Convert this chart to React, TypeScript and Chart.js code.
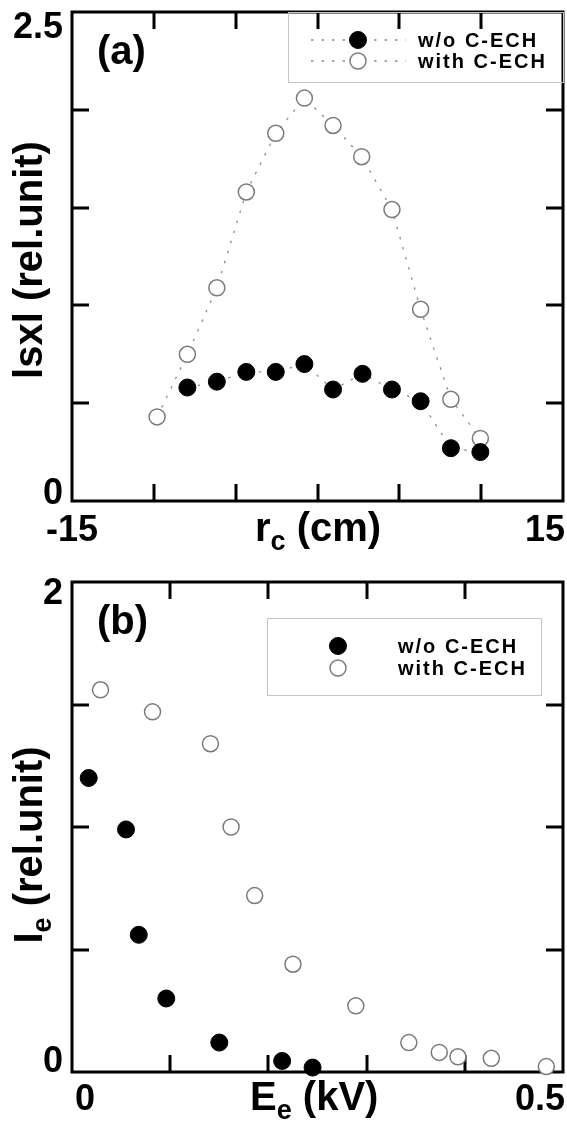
import React, { useEffect, useRef } from 'react';
import { Chart, registerables } from 'chart.js';

Chart.register(...registerables);

// ---------- panel (a): |Sx| profile vs r_c ----------
const rcWith = [-9.8, -7.95, -6.15, -4.35, -2.55, -0.8, 0.95, 2.7, 4.55, 6.3, 8.15, 9.95];
const sxWith = [0.43, 0.75, 1.09, 1.58, 1.88, 2.06, 1.92, 1.76, 1.49, 0.98, 0.52, 0.32];
const rcWithout = [-7.95, -6.15, -4.35, -2.55, -0.8, 0.95, 2.75, 4.55, 6.3, 8.15, 9.95];
const sxWithout = [0.58, 0.61, 0.66, 0.66, 0.7, 0.57, 0.65, 0.57, 0.51, 0.27, 0.25];

// ---------- panel (b): I_e vs E_e ----------
const eWithout = [0.017, 0.055, 0.068, 0.096, 0.15, 0.214, 0.245];
const ieWithout = [1.2, 0.99, 0.56, 0.3, 0.12, 0.045, 0.018];
const eWith = [0.029, 0.082, 0.141, 0.162, 0.186, 0.225, 0.289, 0.343, 0.374, 0.393, 0.427, 0.483];
const ieWith = [1.56, 1.47, 1.34, 1.0, 0.72, 0.44, 0.27, 0.12, 0.08, 0.062, 0.056, 0.022];

const seriesNames = ['w/o C-ECH', 'with C-ECH'];
const aXTickText = ['-15', '15'];
const aYTickText = ['0', '2.5'];
const bXTickText = ['0', '0.5'];
const bYTickText = ['0', '2'];
const panelNames = ['(a)', '(b)'];

const FONT = "'Liberation Sans', Arial, Helvetica, sans-serif";
const W = 567;

type Part = { t: string; sub?: boolean };

function drawParts(ctx: CanvasRenderingContext2D, parts: Part[], x: number, y: number, center: boolean, size: number) {
  const big = `bold ${size}px ${FONT}`;
  const small = `bold ${Math.round(size * 0.68)}px ${FONT}`;
  let w = 0;
  parts.forEach((p) => {
    ctx.font = p.sub ? small : big;
    w += ctx.measureText(p.t).width;
  });
  let cx = center ? x - w / 2 : x;
  ctx.textAlign = 'left';
  ctx.textBaseline = 'alphabetic';
  parts.forEach((p) => {
    ctx.font = p.sub ? small : big;
    ctx.fillText(p.t, cx, y + (p.sub ? size * 0.22 : 0));
    cx += ctx.measureText(p.t).width;
  });
}

const panelPlugin = {
  id: 'panel',
  beforeDatasetsDraw(chart: any) {
    const { ctx, chartArea: a, scales } = chart;
    ctx.save();
    ctx.strokeStyle = '#000';
    ctx.lineWidth = 3;
    ctx.strokeRect(a.left, a.top, a.right - a.left, a.bottom - a.top);
    const L = 17;
    ctx.beginPath();
    const xs = scales.x;
    xs.ticks.forEach((t: any) => {
      if (t.value <= xs.min + 1e-9 || t.value >= xs.max - 1e-9) return;
      const px = Math.round(xs.getPixelForValue(t.value));
      ctx.moveTo(px, a.bottom);
      ctx.lineTo(px, a.bottom - L);
      ctx.moveTo(px, a.top);
      ctx.lineTo(px, a.top + L);
    });
    const ys = scales.y;
    ys.ticks.forEach((t: any) => {
      if (t.value <= ys.min + 1e-9 || t.value >= ys.max - 1e-9) return;
      const py = Math.round(ys.getPixelForValue(t.value));
      ctx.moveTo(a.left, py);
      ctx.lineTo(a.left + L, py);
      ctx.moveTo(a.right, py);
      ctx.lineTo(a.right - L, py);
    });
    ctx.stroke();
    ctx.restore();
  },
  afterDraw(chart: any, _args: any, opts: any) {
    const { ctx, chartArea: a } = chart;
    ctx.save();
    ctx.fillStyle = '#000';
    // tick labels at the ends of each axis
    ctx.font = `bold 36px ${FONT}`;
    ctx.textBaseline = 'alphabetic';
    ctx.textAlign = 'right';
    ctx.fillText(opts.yTicks[0], a.left - 9, a.bottom + opts.yLowDy);
    ctx.fillText(opts.yTicks[1], a.left - 9, a.top + opts.yHighDy);
    ctx.textAlign = 'left';
    ctx.fillText(opts.xTicks[0], a.left + opts.xLowDx, a.bottom + opts.xDy);
    ctx.textAlign = 'right';
    ctx.fillText(opts.xTicks[1], a.right + 2, a.bottom + opts.xDy);

    // axis titles
    drawParts(ctx, opts.xTitle, opts.xTitleX, a.bottom + opts.xDy, false, 40);
    ctx.save();
    ctx.translate(opts.yTitleX, opts.yTitleY);
    ctx.rotate(-Math.PI / 2);
    drawParts(ctx, opts.yTitle, 0, 0, true, 40);
    ctx.restore();

    // panel label
    ctx.font = `bold 40px ${FONT}`;
    ctx.textAlign = 'left';
    ctx.fillText(opts.panel, a.left + 25, a.top + opts.panelDy);

    // legend
    const lg = opts.legend;
    ctx.strokeStyle = '#c4c4c4';
    ctx.lineWidth = 1;
    ctx.strokeRect(lg.x + 0.5, lg.y + 0.5, lg.w, lg.h);
    chart.data.datasets.forEach((ds: any, i: number) => {
      const y = lg.rows[i];
      if (ds.showLine) {
        ctx.save();
        ctx.setLineDash(ds.borderDash);
        ctx.strokeStyle = ds.borderColor;
        ctx.lineWidth = ds.borderWidth;
        ctx.beginPath();
        ctx.moveTo(lg.lineX0, y);
        ctx.lineTo(lg.lineX1, y);
        ctx.stroke();
        ctx.restore();
      }
      ctx.beginPath();
      ctx.arc(lg.markerX, y, ds.pointRadius, 0, Math.PI * 2);
      ctx.fillStyle = ds.pointBackgroundColor;
      ctx.fill();
      ctx.lineWidth = ds.pointBorderWidth;
      ctx.strokeStyle = ds.pointBorderColor;
      ctx.stroke();
      ctx.fillStyle = '#000';
      ctx.font = `bold 20px ${FONT}`;
      (ctx as any).letterSpacing = '2px';
      ctx.textAlign = 'left';
      ctx.textBaseline = 'middle';
      ctx.fillText(ds.label, lg.textX, y + 1);
      (ctx as any).letterSpacing = '0px';
    });
    ctx.restore();
  },
};

function filledStyle() {
  return {
    pointRadius: 8.5,
    pointBackgroundColor: '#000',
    pointBorderColor: '#000',
    pointBorderWidth: 1,
  };
}
function openStyle() {
  return {
    pointRadius: 8,
    pointBackgroundColor: '#fff',
    pointBorderColor: '#7a7a7a',
    pointBorderWidth: 1.5,
  };
}

function baseScales(xMin: number, xMax: number, xStep: number, yMin: number, yMax: number, yStep: number, xH: number) {
  return {
    x: {
      type: 'linear',
      min: xMin,
      max: xMax,
      ticks: { display: false, stepSize: xStep },
      grid: { display: false },
      border: { display: false },
      afterFit: (s: any) => {
        s.height = xH;
      },
    },
    y: {
      type: 'linear',
      min: yMin,
      max: yMax,
      ticks: { display: false, stepSize: yStep },
      grid: { display: false },
      border: { display: false },
      afterFit: (s: any) => {
        s.width = 72;
      },
    },
  };
}

function configA(): any {
  return {
    type: 'scatter',
    data: {
      datasets: [
        {
          label: seriesNames[0],
          data: rcWithout.map((x, i) => ({ x, y: sxWithout[i] })),
          showLine: true,
          borderColor: '#8c8c8c',
          borderWidth: 1.3,
          borderDash: [2.5, 8],
          clip: false,
          ...filledStyle(),
        },
        {
          label: seriesNames[1],
          data: rcWith.map((x, i) => ({ x, y: sxWith[i] })),
          showLine: true,
          borderColor: '#8c8c8c',
          borderWidth: 1.3,
          borderDash: [2.5, 8],
          clip: false,
          ...openStyle(),
        },
      ],
    },
    options: {
      responsive: false,
      animation: false,
      devicePixelRatio: 1,
      layout: { autoPadding: false, padding: { left: 0, top: 12, right: 4, bottom: 0 } },
      plugins: {
        legend: { display: false },
        tooltip: { enabled: false },
        panel: {
          xTicks: aXTickText,
          yTicks: aYTickText,
          yLowDy: 3,
          yHighDy: 26,
          xLowDx: -26,
          xDy: 40,
          xTitle: [{ t: 'r' }, { t: 'c', sub: true }, { t: ' (cm)' }],
          xTitleX: 255,
          yTitle: [{ t: 'lsxl (rel.unit)' }],
          yTitleX: 42,
          yTitleY: 260,
          panel: panelNames[0],
          panelDy: 52,
          legend: { x: 288, y: 12, w: 275, h: 70, rows: [40, 61], lineX0: 311, lineX1: 406, markerX: 358, textX: 418 },
        },
      },
      scales: baseScales(-15, 15, 5, 0, 2.5, 0.5, 59),
    },
    plugins: [panelPlugin],
  };
}

function configB(): any {
  return {
    type: 'scatter',
    data: {
      datasets: [
        {
          label: seriesNames[0],
          data: eWithout.map((x, i) => ({ x, y: ieWithout[i] })),
          showLine: false,
          clip: false,
          ...filledStyle(),
        },
        {
          label: seriesNames[1],
          data: eWith.map((x, i) => ({ x, y: ieWith[i] })),
          showLine: false,
          clip: false,
          ...openStyle(),
        },
      ],
    },
    options: {
      responsive: false,
      animation: false,
      devicePixelRatio: 1,
      layout: { autoPadding: false, padding: { left: 0, top: 22, right: 4, bottom: 0 } },
      plugins: {
        legend: { display: false },
        tooltip: { enabled: false },
        panel: {
          xTicks: bXTickText,
          yTicks: bYTickText,
          yLowDy: 0,
          yHighDy: 22,
          xLowDx: 3,
          xDy: 38,
          xTitle: [{ t: 'E' }, { t: 'e', sub: true }, { t: ' (kV)' }],
          xTitleX: 250,
          yTitle: [{ t: 'I' }, { t: 'e', sub: true }, { t: ' (rel.unit)' }],
          yTitleX: 42,
          yTitleY: 285,
          panel: panelNames[1],
          panelDy: 52,
          legend: { x: 267, y: 58, w: 274, h: 77, rows: [86, 108], lineX0: 0, lineX1: 0, markerX: 338, textX: 398 },
        },
      },
      scales: baseScales(0, 0.5, 0.1, 0, 2, 0.5, 55),
    },
    plugins: [panelPlugin],
  };
}

function PanelChart({ make, top, height }: { make: () => any; top: number; height: number }) {
  const ref = useRef<HTMLCanvasElement | null>(null);
  useEffect(() => {
    if (!ref.current) return;
    const chart = new Chart(ref.current, make());
    return () => chart.destroy();
  }, []);
  return (
    <canvas
      ref={ref}
      width={W}
      height={height}
      style={{ position: 'absolute', left: 0, top, width: W, height, display: 'block' }}
    />
  );
}

export default function App() {
  return (
    <div style={{ position: 'absolute', left: 0, top: 0, width: W, height: 1127, background: '#fff' }}>
      <PanelChart make={configA} top={0} height={560} />
      <PanelChart make={configB} top={560} height={567} />
    </div>
  );
}
